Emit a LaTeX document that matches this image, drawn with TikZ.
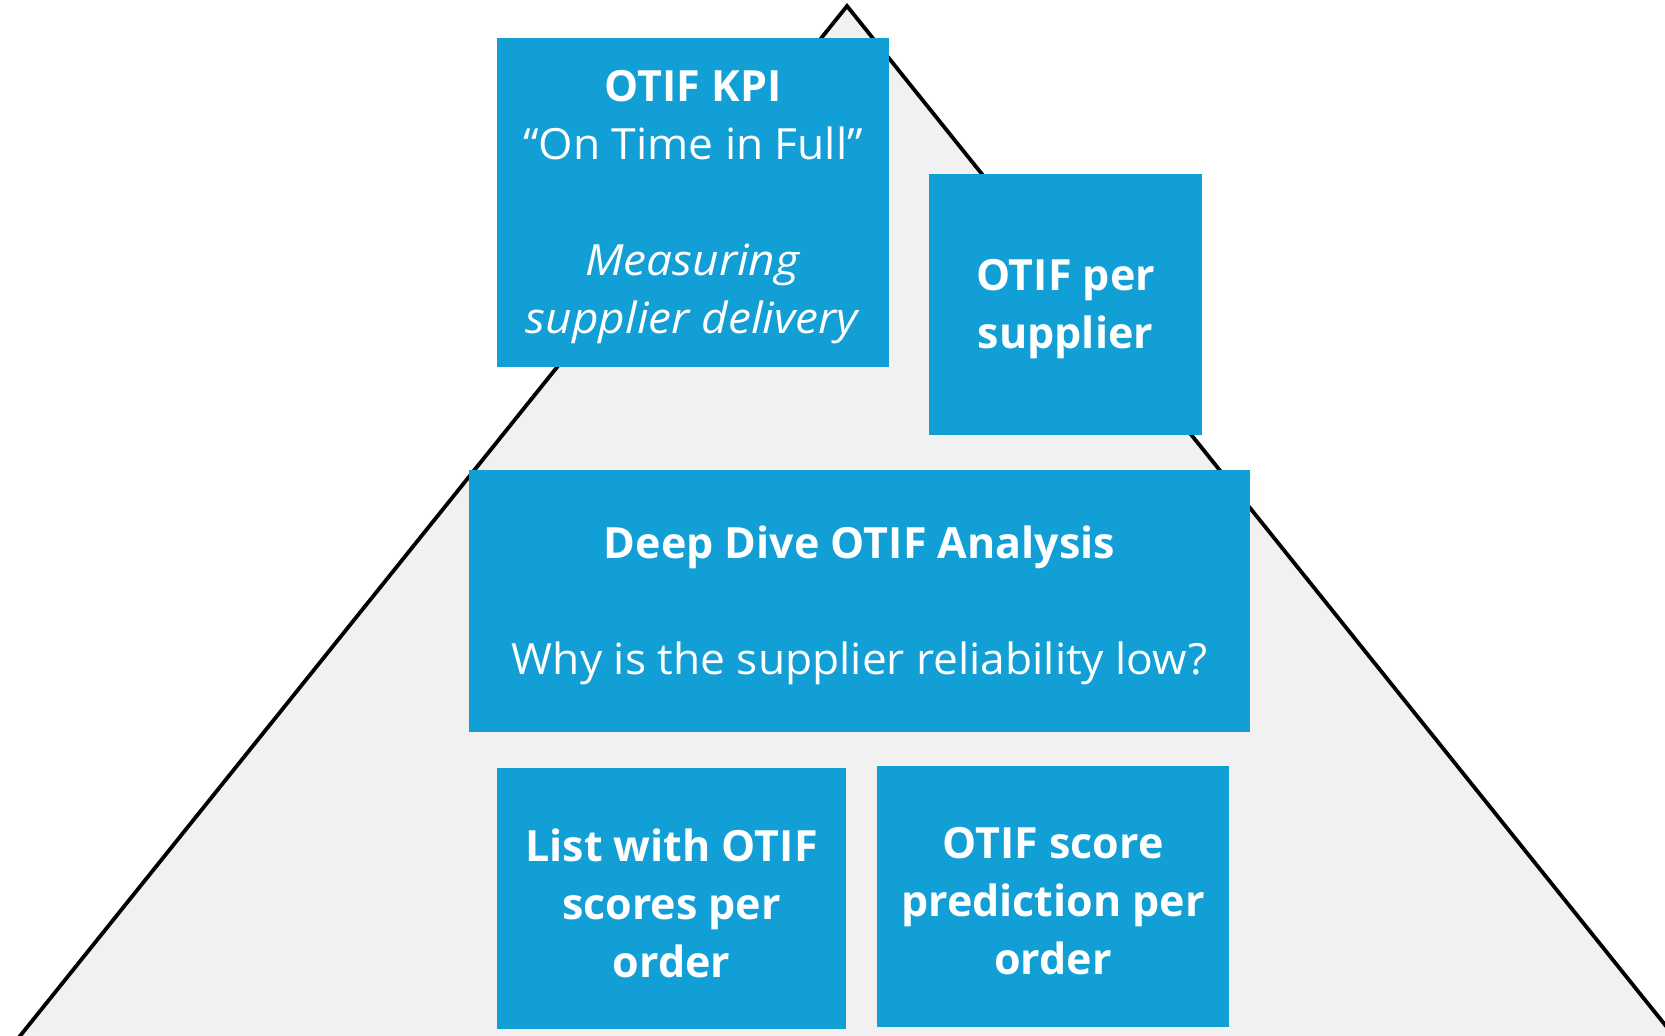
\documentclass[tikz,border=0pt]{standalone}
\usepackage{fontspec}
\setmainfont{Open Sans}[
  UprightFeatures={FakeStretch=1.03},
  ItalicFeatures={FakeStretch=1.07}]
\definecolor{boxblue}{RGB}{18,159,214}
\definecolor{pyrgrey}{RGB}{241,241,241}

\begin{document}
\begin{tikzpicture}[x=0.5pt,y=-0.5pt,
  tile/.style={fill=boxblue, inner sep=0pt},
  tiletext/.style={text=white, align=center, inner sep=0pt,
    font=\fontsize{21.5}{29}\selectfont},
]
\useasboundingbox (0,0) rectangle (1665,1036);

% pyramid in the background, its base running below the page edge
\begin{scope}
  \clip (0,0) rectangle (1665,1036);
  \draw[fill=pyrgrey, line width=1.9pt, line join=miter]
    (847,6) -- (1682,1046) -- (12,1046) -- cycle;
\end{scope}

% blue tiles
\node[tile, minimum width=196pt, minimum height=164.5pt] (kpi) at (693,202.5) {};
\node[tile, minimum width=136.5pt, minimum height=130.5pt] (persupplier) at (1065.5,304.5) {};
\node[tile, minimum width=390.5pt, minimum height=131pt] (deepdive) at (859.5,601) {};
\node[tile, minimum width=174.5pt, minimum height=130.5pt] (orderlist) at (671.5,898.5) {};
\node[tile, minimum width=176pt, minimum height=130.5pt] (prediction) at (1053,896.5) {};

% tile texts
\node[tiletext] (kpitext) at ([yshift=-2.25pt]kpi.center)
  {\textbf{OTIF KPI}\\“On Time in Full”\\[29pt]\textit{Measuring}\\\textit{supplier delivery}};
\node[tiletext] (persuppliertext) at ([yshift=-2.25pt]persupplier.center)
  {\textbf{OTIF per}\\\textbf{supplier}};
\node[tiletext] (deepdivetext) at ([yshift=-2.25pt]deepdive.center)
  {\textbf{Deep Dive OTIF Analysis}\\[29pt]Why is the supplier reliability low?};
\node[tiletext] (orderlisttext) at ([yshift=-2.25pt]orderlist.center)
  {\textbf{List with OTIF}\\\textbf{scores per}\\\textbf{order}};
\node[tiletext] (predictiontext) at ([yshift=-2.25pt]prediction.center)
  {\textbf{OTIF score}\\\textbf{prediction per}\\\textbf{order}};
\end{tikzpicture}
\end{document}
